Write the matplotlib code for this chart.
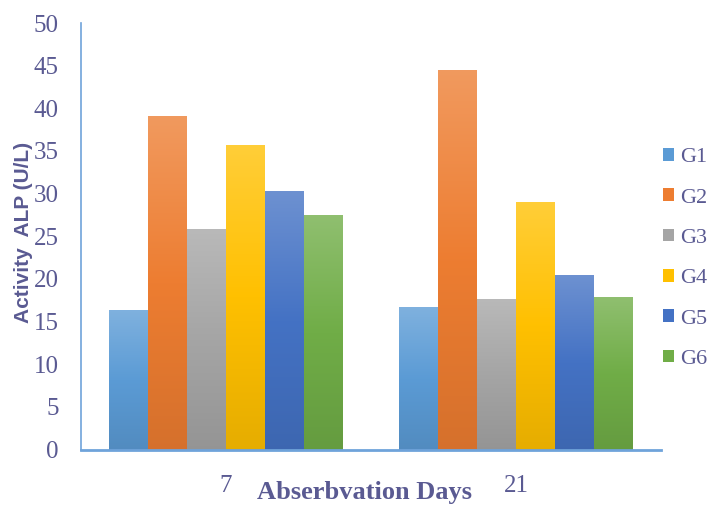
import numpy as np
import matplotlib.pyplot as plt
from matplotlib.colors import to_rgb

days = ["7", "21"]
groups = ["G1", "G2", "G3", "G4", "G5", "G6"]
g1 = [16.3, 16.7]
g2 = [39.1, 44.5]
g3 = [25.9, 17.7]
g4 = [35.7, 29.0]
g5 = [30.3, 20.5]
g6 = [27.5, 17.9]
colors = ["#5B9BD5", "#ED7D31", "#A5A5A5", "#FFC000", "#4472C4", "#70AD47"]

text_col = "#5A5A92"
axis_col = "#6FA3DA"

plt.rcParams["font.family"] = ["Liberation Serif", "DejaVu Serif"]

fig = plt.figure(figsize=(7.07, 5.07), dpi=100)
ax = fig.add_axes([0.1146, 0.1134, 0.8204, 0.8412])

values = [g1, g2, g3, g4, g5, g6]
x = np.arange(len(days))
w = 0.805 / len(groups)


def gradient(base):
    # light top -> base colour in the middle -> darker bottom
    c = np.array(to_rgb(base))
    top = c + (1 - c) * 0.22
    bot = c * 0.9
    t = np.linspace(0, 1, 256)[:, None]
    upper = top + (c - top) * np.clip(t / 0.5, 0, 1)
    lower = c + (bot - c) * np.clip((t - 0.5) / 0.5, 0, 1)
    img = np.where(t < 0.5, upper, lower)
    return img[:, None, :]


for i, (name, vals) in enumerate(zip(groups, values)):
    pos = x - 0.4025 + w * (i + 0.5)
    bars = ax.bar(pos, vals, width=w, color=colors[i], label=name, linewidth=0)
    img = gradient(colors[i])
    for b in bars:
        x0, y0 = b.get_x(), b.get_y()
        im = ax.imshow(img, extent=[x0, x0 + b.get_width(), y0, y0 + b.get_height()],
                       aspect="auto", zorder=b.get_zorder() + 0.1, interpolation="bilinear")
        im.set_clip_path(b)

ax.set_xlim(-0.5, 1.5)
ax.set_ylim(0, 50)
ax.set_yticks(np.arange(0, 51, 5))
ax.set_xticks(x)
ax.set_xticklabels(days)
ax.tick_params(axis="both", length=0, labelsize=18, labelcolor=text_col)
ax.tick_params(axis="y", pad=16)
ax.tick_params(axis="x", pad=18)

for s in ["top", "right"]:
    ax.spines[s].set_visible(False)
ax.spines["left"].set_color(axis_col)
ax.spines["left"].set_linewidth(1.2)
ax.spines["bottom"].set_color(axis_col)
ax.spines["bottom"].set_linewidth(2)
ax.spines["bottom"].set_zorder(5)

fig.text(0.515, 0.029, "Abserbvation Days", ha="center", va="center",
         fontsize=19, fontweight="bold", color=text_col)
fig.text(0.033, 0.542, "Activity  ALP (U/L)", ha="center", va="center", rotation=90,
         fontsize=15, fontweight="bold", color=text_col,
         family=["Liberation Sans", "DejaVu Sans"])

leg = ax.legend(loc="center left", bbox_to_anchor=(1.003, 0.448), frameon=False,
                borderpad=0, borderaxespad=0,
                fontsize=16, labelcolor=text_col, handlelength=0.5, handleheight=0.5,
                handletextpad=0.3, labelspacing=0.95)

fig.savefig("out.png", dpi=100)
